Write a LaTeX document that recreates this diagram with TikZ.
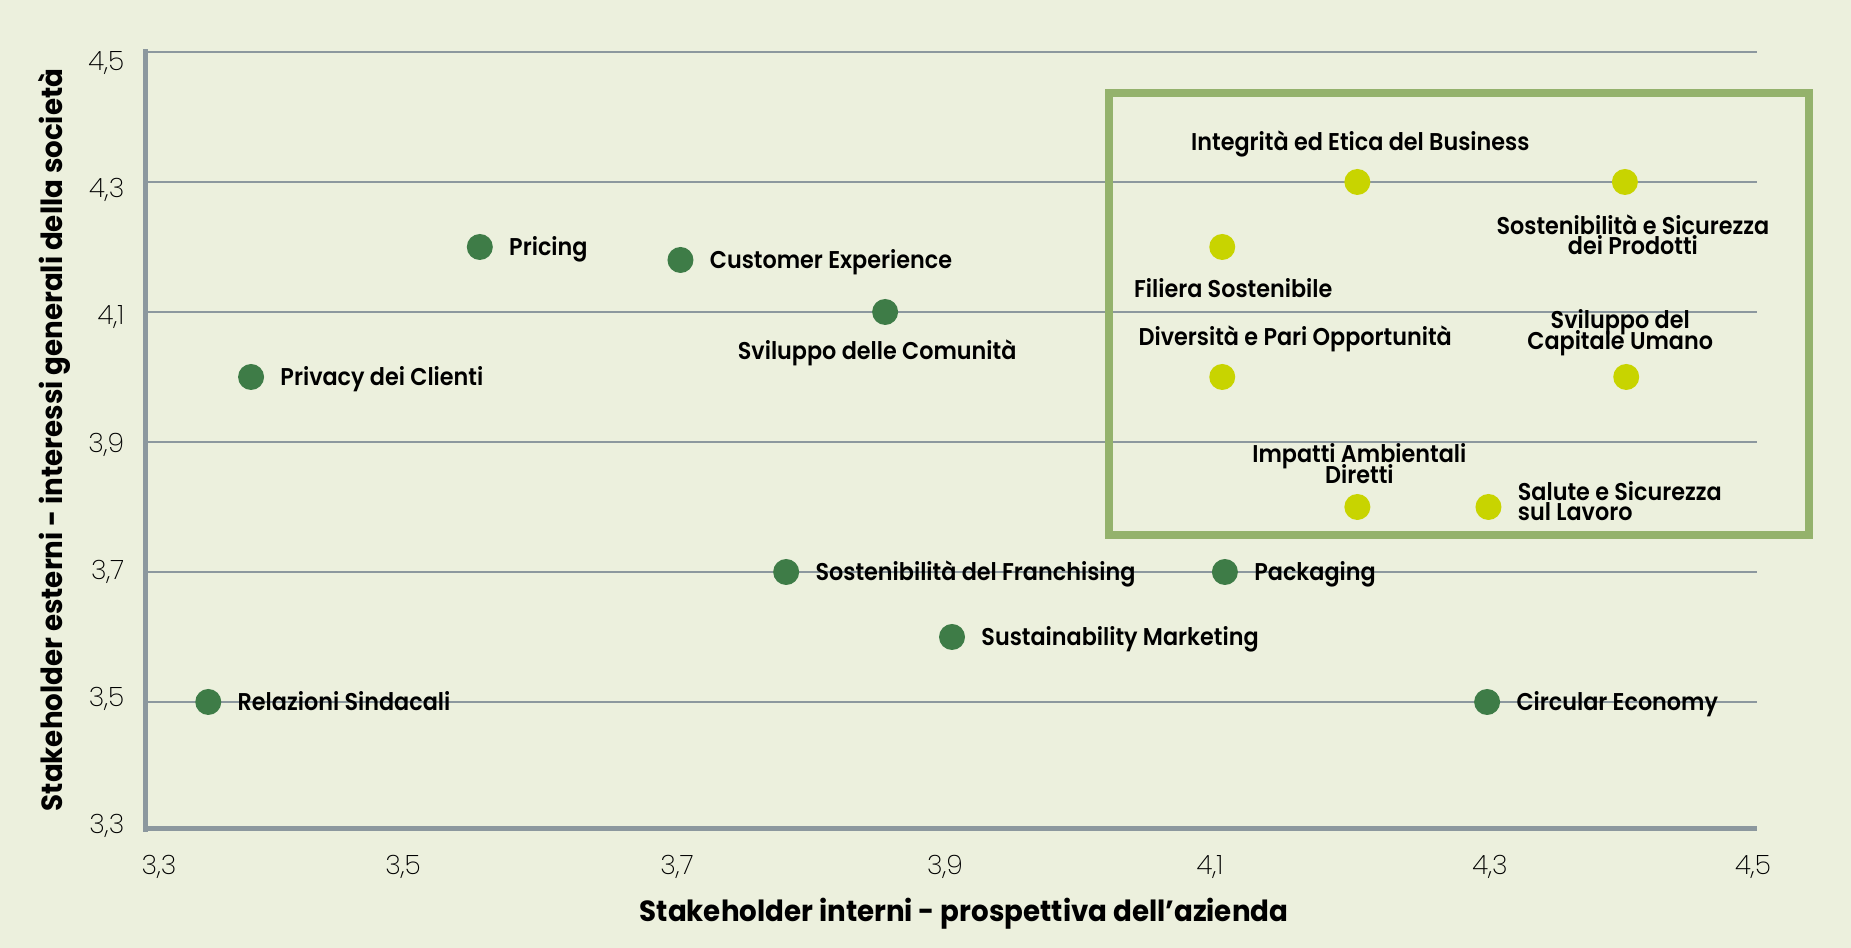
\documentclass[tikz,border=0pt]{standalone}
\usepackage{fontspec}
\setmainfont{Poppins}[FakeStretch=0.9]
\newfontfamily\lblfont{Poppins}[UprightFont={* SemiBold}, FakeStretch=0.92]
\newfontfamily\tickfont{Poppins}[UprightFont={* ExtraLight}]
\newfontfamily\titlefont{Poppins}[UprightFont={* Bold}, FakeStretch=0.95]
\usepackage{tikz}
\usetikzlibrary{positioning}
\setlength{\lineskiplimit}{-5pt}
\definecolor{bgcream}{RGB}{236,240,221}
\definecolor{dotgreen}{RGB}{62,124,71}
\definecolor{dotlime}{RGB}{200,212,0}
\definecolor{boxgreen}{RGB}{148,178,108}
\definecolor{gridgray}{RGB}{140,152,158}
\tikzstyle{greendot} = [circle,
                        fill=dotgreen,
                        inner sep=0pt,
                        minimum size=0.26cm,
                       ]
\tikzstyle{limedot} = [circle,
                       fill=dotlime,
                       inner sep=0pt,
                       minimum size=0.26cm,
                      ]
\tikzstyle{lbl} = [inner sep=0pt,
                   text height=4.8pt,
                   text depth=0pt,
                   font=\lblfont\fontsize{6.9pt}{5.9pt}\selectfont,
                  ]
\tikzstyle{lbltwo} = [inner sep=0pt,
                      align=center,
                      font=\lblfont\fontsize{6.9pt}{5.9pt}\selectfont,
                     ]
\tikzstyle{ticklbl} = [inner sep=0pt, font=\tickfont\fontsize{7.6pt}{8pt}\selectfont]
\tikzstyle{axistitle} = [inner sep=0pt, font=\titlefont\fontsize{8.3pt}{9pt}\selectfont]
\tikzstyle{gridline} = [draw=gridgray, line width=0.55pt]
\tikzstyle{axisline} = [draw=gridgray, line width=1.3pt]
\tikzstyle{framebox} = [draw=boxgreen, line width=2.3pt]

\begin{document}
\begin{tikzpicture}

\fill [bgcream] (0,0) rectangle (18.51,9.48);
\useasboundingbox (0,0) rectangle (18.51,9.48);

% ticks
\foreach \px/\a/\b in {1.59/3/3, 4.03/3/5, 6.77/3/7, 9.45/3/9, 12.10/4/1, 14.90/4/3, 17.53/4/5}
  \node (xt\a\b) [ticklbl, anchor=base] at (\px,0.73) {\a,\b};
\foreach \py/\a/\b in {8.77/4/5, 7.50/4/3, 6.23/4/1, 4.95/3/9, 3.68/3/7, 2.41/3/5, 1.14/3/3}
  \node (yt\a\b) [ticklbl, anchor=base east] at (1.25,\py) {\a,\b};

\node (xtitle) [axistitle, anchor=base] at (9.64,0.26) {Stakeholder interni - prospettiva dell’azienda};
\node (ytitle) [axistitle, anchor=base, rotate=90] at (0.63,5.08) {Stakeholder esterni - interessi generali della società};

\begin{scope}[xshift=9.48cm, yshift=6.36cm, x=13.377cm, y=6.5cm, shift={(-3.9,-4.1)}]

\foreach \v in {3.5,3.7,3.9,4.1,4.3,4.5}
  \draw [gridline] (3.3,\v) -- (4.505,\v);
\draw [axisline] (3.3,3.305) -- (4.505,3.305);
\draw [axisline] (3.3,3.3) -- (3.3,4.505);

\end{scope}

\draw [framebox] (11.09,8.55) rectangle (18.09,4.13);

\begin{scope}[xshift=9.48cm, yshift=6.36cm, x=13.377cm, y=6.5cm, shift={(-3.9,-4.1)}]

\node (pricing) [greendot] at (3.55,4.2) {};
\node (custexp) [greendot] at (3.70,4.18) {};
\node (comunita) [greendot] at (3.853,4.1) {};
\node (privacy) [greendot] at (3.379,4.0) {};
\node (sindacali) [greendot] at (3.347,3.5) {};
\node (franchising) [greendot] at (3.779,3.7) {};
\node (packaging) [greendot] at (4.107,3.7) {};
\node (marketing) [greendot] at (3.903,3.6) {};
\node (circular) [greendot] at (4.303,3.5) {};

\node (integrita) [limedot] at (4.206,4.3) {};
\node (prodotti) [limedot] at (4.406,4.3) {};
\node (filiera) [limedot] at (4.105,4.2) {};
\node (diversita) [limedot] at (4.105,4.0) {};
\node (capitale) [limedot] at (4.407,4.0) {};
\node (impatti) [limedot] at (4.206,3.8) {};
\node (salute) [limedot] at (4.304,3.8) {};

\node (pricing_lbl) [lbl, right=0.15cm of pricing] {Pricing};
\node (custexp_lbl) [lbl, right=0.15cm of custexp] {Customer Experience};
\node (comunita_lbl) [lbl, below=0.16cm of comunita, xshift=-0.08cm] {Sviluppo delle Comunità};
\node (privacy_lbl) [lbl, right=0.15cm of privacy] {Privacy dei Clienti};
\node (sindacali_lbl) [lbl, right=0.15cm of sindacali] {Relazioni Sindacali};
\node (franchising_lbl) [lbl, right=0.15cm of franchising] {Sostenibilità del Franchising};
\node (packaging_lbl) [lbl, right=0.15cm of packaging] {Packaging};
\node (marketing_lbl) [lbl, right=0.15cm of marketing] {Sustainability Marketing};
\node (circular_lbl) [lbl, right=0.15cm of circular] {Circular Economy};

\node (integrita_lbl) [lbl, above=0.17cm of integrita, xshift=0.03cm] {Integrità ed Etica del Business};
\node (prodotti_lbl) [lbltwo, below=0.18cm of prodotti, xshift=0.08cm] {Sostenibilità e Sicurezza\\dei Prodotti};
\node (filiera_lbl) [lbl, below=0.19cm of filiera, xshift=0.11cm] {Filiera Sostenibile};
\node (diversita_lbl) [lbl, above=0.17cm of diversita, xshift=0.73cm] {Diversità e Pari Opportunità};
\node (capitale_lbl) [lbltwo, above=0.07cm of capitale, xshift=-0.06cm] {Sviluppo del\\Capitale Umano};
\node (impatti_lbl) [lbltwo, above=0.09cm of impatti, xshift=0.02cm] {Impatti Ambientali\\Diretti};
\node (salute_lbl) [lbltwo, align=left, right=0.15cm of salute, yshift=0.06cm] {Salute e Sicurezza\\sul Lavoro};

\end{scope}

\end{tikzpicture}
\end{document}
